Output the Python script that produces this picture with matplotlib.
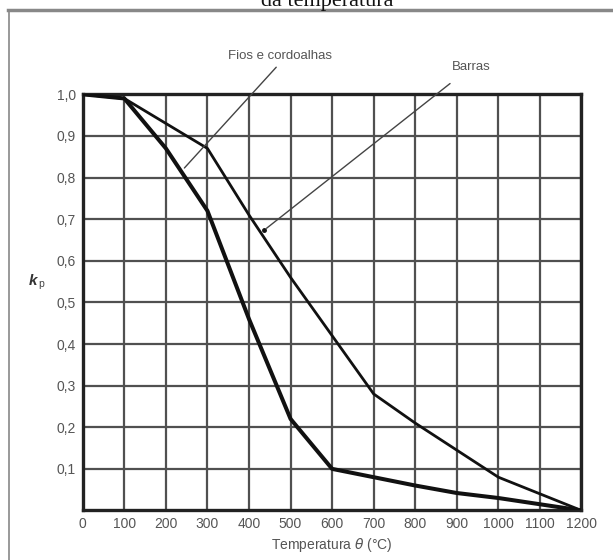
import matplotlib
matplotlib.use("Agg")
import matplotlib.pyplot as plt
from matplotlib.lines import Line2D

# Data
temp_barras = [0, 100, 200, 300, 400, 500, 600, 700, 800, 900, 1000, 1200]
kp_barras = [1.0, 0.99, 0.93, 0.87, 0.71, 0.56, 0.42, 0.28, 0.21, 0.145, 0.08, 0.0]
temp_fios = [0, 100, 200, 300, 400, 500, 600, 700, 800, 900, 1000, 1100, 1200]
kp_fios = [1.0, 0.99, 0.87, 0.72, 0.46, 0.22, 0.10, 0.08, 0.06, 0.042, 0.03, 0.015, 0.0]
xticks = list(range(0, 1201, 100))
yticks = [0.1, 0.2, 0.3, 0.4, 0.5, 0.6, 0.7, 0.8, 0.9, 1.0]
ytick_labels = ["0,1", "0,2", "0,3", "0,4", "0,5", "0,6", "0,7", "0,8", "0,9", "1,0"]

plt.rcParams['font.family'] = ['Liberation Sans', 'DejaVu Sans']
txt_color = '#555555'

fig = plt.figure(figsize=(6.13, 5.6), dpi=100)
ax = fig.add_axes([0.135, 0.0884, 0.8136, 0.7432])

ax.set_xlim(0, 1200)
ax.set_ylim(0, 1.0)
ax.set_xticks(xticks)
ax.set_xticklabels([str(t) for t in xticks])
ax.set_yticks(yticks)
ax.set_yticklabels(ytick_labels)
ax.tick_params(length=0, labelsize=10, colors=txt_color, pad=5)
ax.grid(True, color='#505050', linewidth=1.6)
ax.set_axisbelow(True)
for s in ax.spines.values():
    s.set_linewidth(2.4)
    s.set_color('#222222')

ax.plot(temp_barras, kp_barras, color='#111111', linewidth=2.0, zorder=3)
ax.plot(temp_fios, kp_fios, color='#111111', linewidth=2.9, zorder=3)

ax.set_xlabel(r"Temperatura $\theta$ (°C)", fontsize=10, color=txt_color, labelpad=3)

# y label k_p
fig.text(33/613, 1 - 281/560, "k", fontsize=11, fontstyle='italic', fontweight='bold',
         color='#333333', ha='center', va='center')
fig.text(41/613, 1 - 284/560, "p", fontsize=7.5, color='#444444', ha='center', va='center')

# annotations
ax.annotate("", xy=(240, 0.818), xytext=(470, 1.07),
            arrowprops=dict(arrowstyle='-', color='#444444', lw=1.0), annotation_clip=False)
ax.annotate("", xy=(437, 0.674), xytext=(889, 1.03),
            arrowprops=dict(arrowstyle='-', color='#444444', lw=1.0), annotation_clip=False)
ax.plot([437], [0.674], marker='o', markersize=2.5, color='#111111', zorder=4, clip_on=False)
ax.text(475, 1.093, "Fios e cordoalhas", fontsize=9.5, color=txt_color,
        ha='center', va='center', clip_on=False)
ax.text(935, 1.065, "Barras", fontsize=9.5, color=txt_color,
        ha='center', va='center', clip_on=False)

# outer frame lines
fig.add_artist(Line2D([8/613, 1.0], [1 - 10/560, 1 - 10/560], color='#888888', linewidth=2.5,
                      transform=fig.transFigure))
fig.add_artist(Line2D([8.5/613, 8.5/613], [0, 1 - 10/560], color='#888888', linewidth=1.2,
                      transform=fig.transFigure))

# cut-off title (as in the reference)
fig.text(327/613, 1 - 6/560, "da temperatura", fontsize=16, family='Liberation Serif',
         color='#111111', ha='center', va='baseline')

fig.savefig("out.png", dpi=100)
